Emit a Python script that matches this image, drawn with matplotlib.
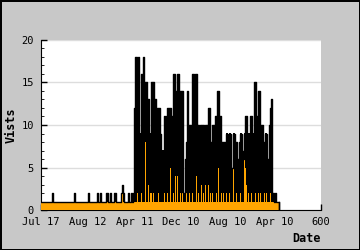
import numpy as np
import matplotlib
matplotlib.use("Agg")
import matplotlib.pyplot as plt
from matplotlib.ticker import MultipleLocator

# one sample for every ~2.14 days (one screen pixel of the original chart)
STEP = 600 / 280

# visits per sample
visits = ([1] * 11 + [2] + [1] * 21 + [2] + [1] * 13 + [2] + [1] * 8 + [2]
          + [1] * 2 + [2] + [1] * 5 + [2, 2] + [1] * 2 + [2] + [1] * 3 + [2, 2]
          + [1] * 5 + [2, 3, 2] + [1] * 4 + [2] + [1, 1] + [2, 1, 2]
          + [12, 18, 18, 12, 18, 9, 9, 16, 9, 18,
             13, 15, 15, 13, 13, 9, 9, 15, 15, 15,
             13, 13, 9, 12, 12, 12, 9, 7, 7, 7,
             11, 10, 11, 12, 12, 12, 12, 9, 11, 16,
             16, 14, 11, 16, 16, 14, 14, 14, 14, 2,
             2, 6, 8, 14, 8, 10, 10, 7, 16, 16,
             7, 16, 16, 10, 10, 7, 10, 10, 10, 10,
             8, 10, 10, 10, 12, 12, 8, 8, 10, 10,
             10, 11, 11, 14, 14, 11, 11, 8, 8, 8,
             8, 5, 9, 9, 8, 9, 9, 5, 5, 9,
             9, 8, 8, 6, 6, 8, 9, 9, 7, 6,
             9, 11, 11, 9, 9, 9, 11, 11, 9, 9,
             15, 15, 11, 9, 14, 14, 9, 10, 10, 8,
             8, 9, 9, 6, 6, 10, 12, 13, 2, 2,
             1, 2, 1, 1, 1])

# unique visitors per sample
uniques = ([1] * 65 + [2] + [1] * 14 + [2, 2] + [1] * 11
           + [1, 1, 1, 2, 1, 1, 1, 2, 1, 1,
              1, 8, 1, 1, 3, 1, 2, 2, 1, 2,
              1, 1, 1, 1, 2, 1, 1, 1, 1, 1,
              2, 1, 1, 2, 1, 1, 5, 1, 1, 2,
              1, 4, 1, 4, 1, 1, 2, 1, 2, 1,
              1, 1, 2, 1, 1, 2, 1, 1, 2, 1,
              1, 1, 4, 1, 2, 1, 1, 3, 1, 2,
              1, 3, 1, 1, 3, 1, 2, 1, 2, 1,
              1, 1, 2, 1, 5, 1, 1, 2, 1, 2,
              1, 1, 2, 1, 1, 2, 1, 1, 1, 5,
              1, 1, 2, 1, 1, 1, 2, 1, 1, 1,
              6, 5, 3, 1, 2, 1, 1, 2, 1, 1,
              1, 2, 1, 1, 2, 1, 2, 1, 1, 1,
              2, 1, 2, 1, 1, 1, 2, 1, 1, 1,
              1, 1, 1, 1, 1])

assert len(visits) == len(uniques)

tick_labels = ["Jul 17", "Aug 12", "Apr 11", "Dec 10", "Aug 10", "Apr 10", "600"]

x = np.arange(len(visits) + 1) * STEP
v = np.array(visits + [0])
u = np.array(uniques + [0])

fig = plt.figure(figsize=(3.6, 2.5), dpi=100)
fig.patch.set_facecolor("#c8c8c8")
fig.patch.set_edgecolor("black")
fig.patch.set_linewidth(2)
ax = fig.add_axes([41 / 360, 40 / 250, 280 / 360, 170 / 250])
ax.set_facecolor("white")

ax.fill_between(x, v, step="post", color="black", lw=0, zorder=2)
ax.fill_between(x, u, step="post", color="#ffa500", lw=0, zorder=3)
ax.step(x, v, where="post", color="black", lw=1, zorder=4)
ax.plot([x[-1], x[-1]], [0, 1], color="black", lw=1, zorder=4)

ax.set_xlim(0, 600)
ax.set_ylim(0, 20)
ax.set_xticks(np.arange(0, 700, 100))
ax.set_xticklabels(tick_labels)
ax.yaxis.set_major_locator(MultipleLocator(5))
ax.yaxis.set_minor_locator(MultipleLocator(1))
ax.tick_params(direction="in", length=4, width=1, labelsize=7.5, pad=5)
ax.tick_params(axis="y", which="minor", direction="in", length=2)
for lab in ax.get_xticklabels() + ax.get_yticklabels():
    lab.set_family("DejaVu Sans Mono")

ax.grid(axis="y", color="#dddddd", lw=1, zorder=0)
ax.set_axisbelow(True)
for s in ["top", "right"]:
    ax.spines[s].set_visible(False)

ax.set_ylabel("Vists", family="DejaVu Sans Mono", fontweight="bold", fontsize=8.5, labelpad=3)
ax.text(1.0, -0.13, "Date", transform=ax.transAxes, ha="right", va="top",
        family="DejaVu Sans Mono", fontweight="bold", fontsize=8.5)

fig.savefig("out.png", dpi=100, facecolor=fig.get_facecolor(), edgecolor="black")
